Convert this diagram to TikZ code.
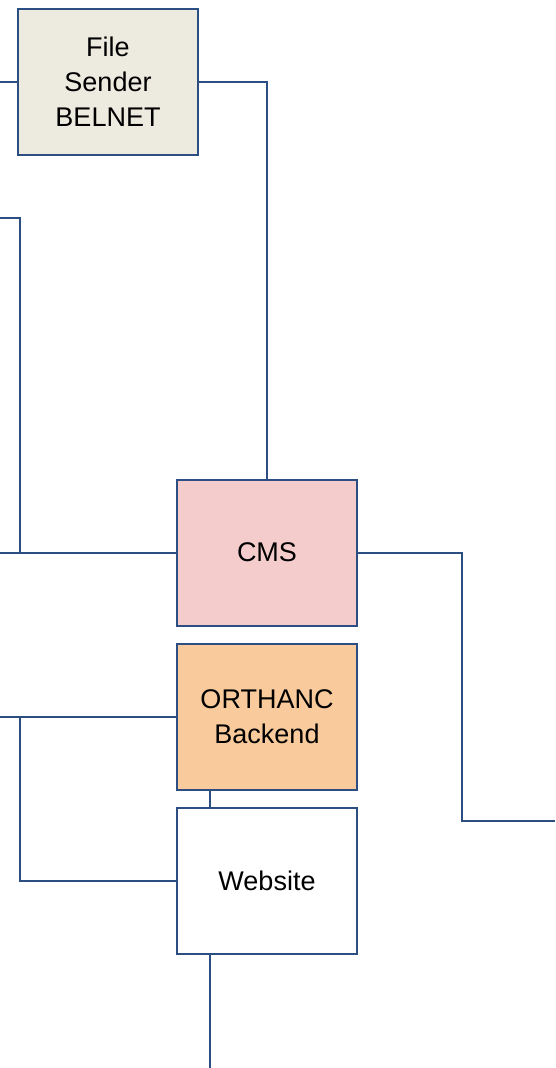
\documentclass[tikz,border=0pt]{standalone}
\usepackage{fontspec}
\setmainfont{Liberation Sans}
\definecolor{edge}{RGB}{44,78,131}
\definecolor{beige}{RGB}{237,234,224}
\definecolor{pinkfill}{RGB}{244,204,204}
\definecolor{orangefill}{RGB}{249,203,156}
\tikzset{
  box/.style={draw=edge, line width=2pt, minimum width=180pt, minimum height=146pt,
    inner sep=0pt, align=center, font=\fontsize{27}{35}\selectfont, text=black},
  wire/.style={draw=edge, line width=2pt}
}
\begin{document}
\begin{tikzpicture}[x=1pt,y=-1pt]
\useasboundingbox (0,0) rectangle (555,1068);
\node[box, fill=beige] (fs) at (108,82) {File\\Sender\\BELNET};
\node[box, fill=pinkfill] (cms) at (267,552.5) {CMS};
\node[box, fill=orangefill] (orth) at (267,717) {ORTHANC\\Backend};
\node[box, fill=white] (web) at (267,881) {Website};
\coordinate (a) at (0,82);
\coordinate (b) at (0,218);
\coordinate (bj) at (20,218);
\coordinate (c) at (0,552.5);
\coordinate (turn) at (462,821);
\coordinate (d) at (555,821);
\coordinate (e) at (0,717);
\coordinate (ej) at (20,717);
\coordinate (f) at (210,1068);
\draw[wire] (a) -- (fs.west);
\draw[wire] (fs.east) -| (cms.north);
\draw[wire] (b) -- (bj) |- (cms.west);
\draw[wire] (c) -- (cms.west);
\draw[wire] (cms.east) -| (turn) -- (d);
\draw[wire] (e) -- (orth.west);
\draw[wire] (ej) |- (web.west);
\draw[wire] ([xshift=-57pt]orth.south) -- ([xshift=-57pt]web.north);
\draw[wire] ([xshift=-57pt]web.south) -- (f);
\end{tikzpicture}
\end{document}
